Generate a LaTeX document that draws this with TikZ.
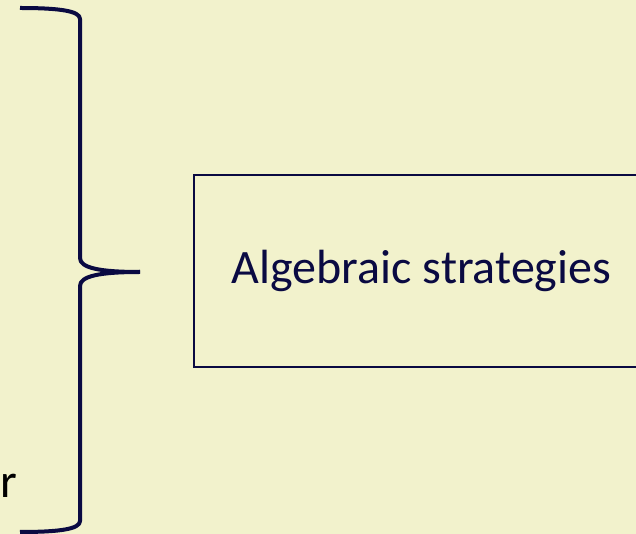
\documentclass[tikz,border=0pt]{standalone}
\usepackage{fontspec}
\setmainfont{Carlito}
\usepackage{tikz}
\usetikzlibrary{positioning}
\definecolor{paperbg}{HTML}{F2F2CC}
\definecolor{inknavy}{HTML}{0A0A42}

\begin{document}
\begin{tikzpicture}[
  x=0.75pt, y=-0.75pt,
  brace/.style={
    draw=inknavy,
    line width=3pt,
    line cap=butt,
    line join=round
  },
  label/.style={
    draw=inknavy,
    line width=1.8pt,
    minimum width=455*0.75pt,
    minimum height=192*0.75pt,
    inner sep=0pt,
    text=inknavy,
    font=\fontsize{36}{42}\selectfont
  }
]

  % Page and background
  \fill[paperbg] (0,0) rectangle (636,534);
  \useasboundingbox (0,0) rectangle (636,534);
  \clip (0,0) rectangle (636,534);

  % Text running in from the left edge
  \node[anchor=base west, inner sep=0pt, font=\fontsize{36}{42}\selectfont] (cut) at (0,498) {r};

  % Right curly brace
  \coordinate (tip) at (140,272);
  \draw[brace] (20,8) .. controls (60,8) and (80,11) .. (80,19) -- (80,258)
    .. controls (80,268) and (100,272) .. (tip);
  \draw[brace] (tip) .. controls (100,272) and (80,276) .. (80,286) -- (80,521)
    .. controls (80,529) and (60,532) .. (20,532);

  % Box the brace points to
  \node[label] (strategies) at (421.5,271) {Algebraic strategies};

\end{tikzpicture}
\end{document}
